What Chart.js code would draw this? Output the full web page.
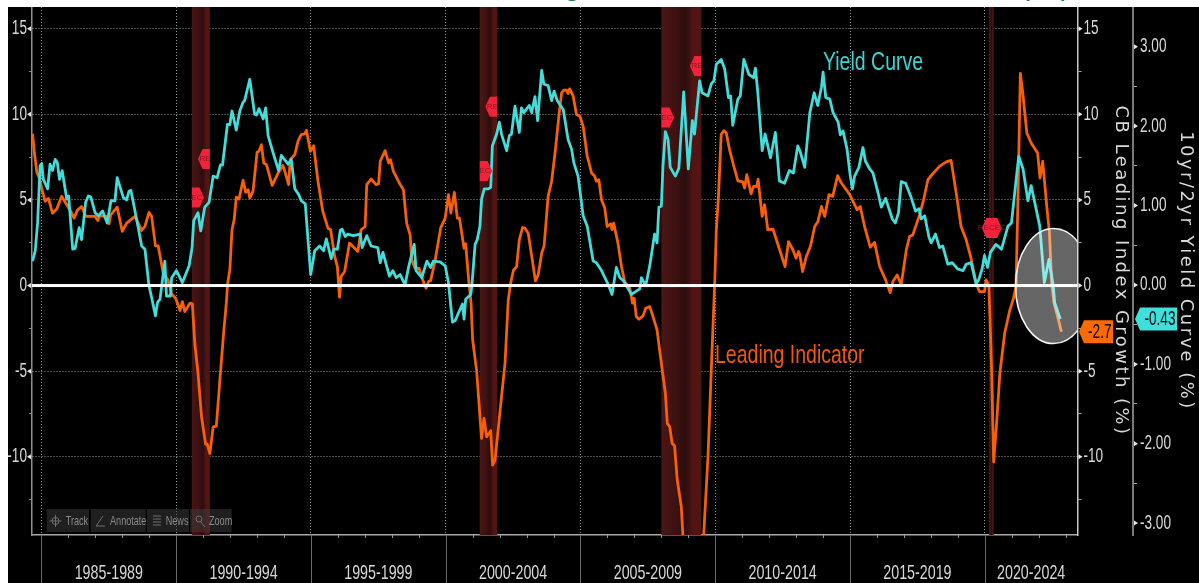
<!DOCTYPE html>
<html><head><meta charset="utf-8">
<style>
html,body{margin:0;padding:0;background:#fff;width:1199px;height:583px;overflow:hidden}
#c{position:absolute;left:8px;top:7px;background:#000;filter:blur(.45px)}
#head{position:absolute;left:0;top:0;width:1199px;height:7px;overflow:hidden}
#head span{position:absolute;top:-30px;font:30px/30px "Liberation Sans";color:#0b7a4a}
</style>
<script src="https://cdn.jsdelivr.net/npm/chart.js@4"></script>
</head><body>
<div id="head"><span style="left:564px">g</span><span style="left:1020px;letter-spacing:2px">(%)</span></div>
<canvas id="c" width="1191" height="576"></canvas>
<script>
const leadYears=[1984.67,1984.74,1984.83,1984.93,1985.02,1985.14,1985.26,1985.41,1985.57,1985.75,1985.94,1986.09,1986.21,1986.33,1986.49,1986.65,1986.99,1987.09,1987.17,1987.40,1987.51,1987.57,1987.81,1988.00,1988.16,1988.47,1988.72,1988.84,1988.99,1989.09,1989.23,1989.33,1989.52,1989.70,1989.83,1989.98,1990.14,1990.23,1990.32,1990.51,1990.60,1990.69,1990.81,1990.94,1991.09,1991.15,1991.25,1991.37,1991.49,1991.62,1991.77,1991.86,1991.91,1991.99,1992.07,1992.15,1992.23,1992.33,1992.48,1992.58,1992.67,1992.73,1992.85,1993.00,1993.07,1993.16,1993.25,1993.35,1993.56,1993.78,1993.96,1994.05,1994.17,1994.23,1994.40,1994.52,1994.64,1994.77,1994.83,1994.98,1995.10,1995.26,1995.44,1995.63,1995.73,1995.88,1995.98,1996.06,1996.12,1996.25,1996.43,1996.74,1996.86,1997.01,1997.07,1997.23,1997.42,1997.51,1997.57,1997.75,1997.88,1997.95,1998.06,1998.31,1998.43,1998.55,1998.68,1998.74,1998.86,1999.01,1999.17,1999.27,1999.36,1999.44,1999.60,1999.81,1999.98,2000.10,2000.19,2000.32,2000.43,2000.51,2000.68,2000.74,2000.84,2000.94,2001.00,2001.15,2001.27,2001.33,2001.42,2001.52,2001.67,2001.74,2001.83,2002.07,2002.20,2002.32,2002.41,2002.51,2002.63,2002.73,2002.85,2002.94,2003.06,2003.33,2003.43,2003.56,2003.65,2003.80,2003.93,2004.07,2004.21,2004.30,2004.38,2004.48,2004.54,2004.60,2004.73,2004.85,2004.98,2005.10,2005.25,2005.32,2005.41,2005.53,2005.59,2005.68,2005.78,2005.90,2005.99,2006.12,2006.17,2006.23,2006.39,2006.52,2006.64,2006.83,2006.93,2006.99,2007.07,2007.17,2007.32,2007.42,2007.57,2007.69,2007.84,2008.00,2008.15,2008.22,2008.31,2008.40,2008.49,2008.59,2008.74,2008.80,2008.95,2009.45,2009.57,2009.73,2009.85,2009.98,2010.04,2010.12,2010.22,2010.32,2010.41,2010.53,2010.69,2010.84,2011.02,2011.09,2011.17,2011.33,2011.42,2011.54,2011.59,2011.74,2011.83,2011.95,2012.14,2012.41,2012.59,2012.72,2012.88,2013.00,2013.09,2013.14,2013.24,2013.38,2013.53,2013.69,2013.81,2013.94,2014.06,2014.22,2014.36,2014.54,2014.68,2014.86,2014.99,2015.26,2015.38,2015.54,2015.75,2015.91,2016.10,2016.32,2016.49,2016.59,2016.75,2016.90,2017.09,2017.21,2017.33,2017.58,2017.73,2017.89,2018.07,2018.32,2018.57,2018.75,2018.94,2019.12,2019.31,2019.49,2019.68,2019.80,2019.99,2020.05,2020.15,2020.19,2020.25,2020.33,2020.43,2020.56,2020.74,2020.93,2021.05,2021.16,2021.23,2021.32,2021.41,2021.56,2021.72,2021.96,2022.05,2022.15,2022.30,2022.40,2022.48,2022.57,2022.75,2022.84];
const leadValues=[8.87,7.74,6.61,6.28,5.60,4.92,5.09,4.23,4.47,5.21,4.72,4.33,3.94,4.39,4.62,4.04,4.04,3.80,4.08,4.04,3.61,4.13,4.58,3.16,3.65,4.04,3.22,3.45,4.27,4.04,2.32,2.32,0.72,0.33,-0.49,-0.74,-1.46,-0.94,-1.52,-1.03,-1.07,-3.37,-5.13,-7.66,-9.26,-9.26,-9.81,-8.25,-8.21,-5.52,-2.59,-1.03,0.14,0.92,3.26,3.84,5.17,5.05,6.14,5.44,5.60,5.11,5.50,7.78,7.84,8.23,7.16,7.06,5.85,6.57,7.02,6.57,5.89,7.35,7.65,8.43,8.82,8.86,9.07,7.84,8.17,6.09,4.33,3.35,3.26,1.70,1.11,-0.68,0.53,0.82,2.48,1.99,3.26,3.45,5.89,6.22,5.89,5.95,7.26,7.88,7.16,7.35,6.67,5.90,5.60,3.65,2.96,1.50,1.01,1.01,0.23,-0.16,0.23,0.29,1.40,3.35,3.94,5.31,4.23,5.44,3.94,3.94,2.18,2.44,0.53,-1.03,-3.18,-5.03,-7.66,-8.93,-7.76,-8.83,-8.48,-10.49,-10.20,-6.49,-4.54,-0.84,0.14,0.88,1.11,2.67,3.39,3.35,3.06,0.27,0.62,1.89,2.32,5.21,6.09,7.94,10.08,11.25,11.41,11.41,11.22,11.49,11.06,9.99,9.89,9.30,7.55,7.16,6.57,6.38,6.09,6.18,5.01,4.53,3.45,3.61,3.26,3.65,2.48,1.11,0.23,-0.16,-1.03,-0.74,-1.81,-1.97,-1.77,-1.33,-1.23,-1.81,-2.59,-4.54,-6.30,-8.05,-8.25,-9.22,-9.36,-11.36,-12.92,-14.60,-16.50,-16.50,-14.60,-10.00,-5.03,0.14,3.26,5.21,8.82,9.05,8.91,7.94,6.96,6.12,6.05,5.70,6.48,5.36,5.79,5.79,6.22,4.04,4.72,3.26,3.30,1.99,1.11,2.57,2.09,1.60,1.99,1.79,0.82,1.70,2.28,3.45,3.74,4.62,4.04,5.31,5.21,6.42,5.99,5.60,5.31,4.43,4.62,3.45,2.24,2.52,1.11,0.33,-0.41,0.23,0.62,0.04,2.09,2.87,2.96,4.13,5.01,6.18,6.53,6.96,7.22,7.31,5.40,3.45,2.67,1.60,0.14,-0.35,-0.35,0.33,0.04,-1.81,-4.74,-10.30,-8.25,-5.11,-2.77,-1.42,-0.84,-0.05,5.01,12.39,11.25,8.91,8.33,7.74,6.28,7.26,4.62,3.06,0.14,-1.03,-2.10,-2.70];
const curveYears=[1984.67,1984.77,1984.86,1984.95,1985.01,1985.07,1985.23,1985.32,1985.41,1985.51,1985.59,1985.67,1985.77,1985.94,1986.01,1986.16,1986.25,1986.40,1986.49,1986.64,1986.74,1986.83,1986.99,1987.11,1987.27,1987.44,1987.58,1987.73,1987.81,1988.04,1988.16,1988.25,1988.32,1988.53,1988.72,1988.84,1988.99,1989.09,1989.23,1989.31,1989.40,1989.58,1989.64,1989.79,1989.83,1990.01,1990.23,1990.48,1990.59,1990.65,1990.81,1990.91,1991.06,1991.22,1991.37,1991.52,1991.64,1991.72,1991.90,1991.99,1992.07,1992.23,1992.36,1992.48,1992.54,1992.73,1992.91,1992.98,1993.07,1993.23,1993.32,1993.41,1993.59,1993.80,1993.90,1994.15,1994.27,1994.40,1994.54,1994.64,1994.79,1994.89,1994.99,1995.14,1995.32,1995.47,1995.57,1995.75,1995.85,1995.98,1996.09,1996.16,1996.27,1996.37,1996.56,1996.83,1996.90,1997.07,1997.23,1997.48,1997.57,1997.67,1997.91,1998.04,1998.16,1998.31,1998.49,1998.62,1998.83,1998.90,1999.11,1999.30,1999.44,1999.54,1999.79,1999.98,2000.10,2000.25,2000.35,2000.62,2000.68,2000.74,2000.93,2000.97,2001.09,2001.17,2001.27,2001.33,2001.43,2001.58,2001.67,2001.73,2001.89,2001.99,2002.07,2002.26,2002.36,2002.44,2002.57,2002.73,2002.81,2002.90,2003.10,2003.19,2003.31,2003.41,2003.56,2003.64,2003.80,2003.93,2004.02,2004.14,2004.36,2004.54,2004.67,2004.75,2004.91,2005.10,2005.25,2005.47,2005.59,2005.78,2006.02,2006.17,2006.33,2006.46,2006.60,2006.89,2007.20,2007.26,2007.42,2007.57,2007.75,2007.84,2007.91,2008.00,2008.06,2008.15,2008.25,2008.33,2008.52,2008.65,2008.83,2009.00,2009.15,2009.23,2009.42,2009.51,2009.73,2009.85,2009.95,2010.04,2010.22,2010.35,2010.49,2010.57,2010.65,2010.84,2010.93,2011.06,2011.25,2011.42,2011.49,2011.58,2011.74,2011.85,2012.05,2012.23,2012.38,2012.57,2012.75,2012.90,2013.06,2013.14,2013.32,2013.51,2013.67,2013.80,2013.94,2014.00,2014.10,2014.25,2014.37,2014.56,2014.64,2014.74,2014.89,2015.01,2015.09,2015.17,2015.33,2015.48,2015.57,2015.73,2015.85,2016.04,2016.16,2016.32,2016.57,2016.68,2016.80,2016.90,2017.06,2017.27,2017.43,2017.56,2017.64,2017.77,2017.93,2018.01,2018.17,2018.32,2018.44,2018.63,2018.79,2019.00,2019.19,2019.31,2019.49,2019.68,2019.78,2019.90,2019.99,2020.10,2020.21,2020.41,2020.62,2020.86,2020.99,2021.11,2021.26,2021.42,2021.60,2021.72,2022.04,2022.21,2022.38,2022.54,2022.59,2022.80];
const curveValues=[0.30,0.43,0.79,1.50,1.53,1.33,1.21,1.52,1.44,1.58,1.54,1.33,1.44,1.08,1.12,0.45,0.46,0.72,0.57,1.04,1.12,1.11,0.91,0.87,0.93,0.78,1.06,1.06,1.35,1.10,1.07,1.18,1.19,0.83,0.49,0.45,-0.01,-0.16,-0.39,-0.22,-0.18,0.30,-0.14,-0.14,0.09,0.18,0.03,0.24,0.47,0.81,0.91,0.68,0.98,1.04,1.37,1.35,1.51,1.51,2.02,2.02,2.19,1.95,2.19,2.30,2.32,2.59,2.15,2.14,2.22,2.09,2.23,1.88,1.67,1.44,1.63,1.52,1.58,1.21,1.14,1.06,1.02,0.57,0.13,0.43,0.49,0.43,0.58,0.33,0.45,0.45,0.69,0.70,0.61,0.64,0.62,0.64,0.47,0.62,0.49,0.47,0.28,0.41,0.11,0.18,0.09,0.13,0.00,0.22,0.51,0.18,0.09,0.30,0.22,0.30,0.29,0.24,0.03,-0.47,-0.45,-0.24,-0.43,-0.18,-0.12,-0.01,0.51,0.57,0.74,1.08,1.21,1.21,1.23,1.75,1.90,2.05,1.90,1.69,1.88,1.90,2.25,1.92,2.23,2.17,2.26,2.17,2.37,2.07,2.70,2.53,2.51,2.32,2.44,2.32,2.21,1.83,1.71,1.54,1.37,0.87,0.74,0.30,0.28,0.18,0.01,-0.12,0.22,0.09,0.05,-0.12,-0.05,0.09,-0.01,0.24,0.64,0.53,0.98,0.99,1.50,1.93,1.83,1.48,1.37,1.47,2.43,1.46,2.07,1.90,2.57,2.42,2.38,2.53,2.57,2.78,2.84,2.72,2.36,2.38,2.01,2.34,2.38,2.84,2.65,2.61,2.73,2.42,1.69,1.90,1.60,1.92,1.31,1.28,1.44,1.41,1.75,1.69,1.48,2.17,2.42,2.26,2.49,2.68,2.36,2.34,2.17,2.05,1.89,1.94,1.71,1.37,1.21,1.37,1.48,1.73,1.56,1.46,1.41,1.16,0.98,1.09,0.83,0.78,0.91,1.30,1.28,1.10,0.93,0.96,0.83,0.87,0.60,0.53,0.64,0.47,0.49,0.26,0.28,0.20,0.18,0.26,0.28,0.01,0.07,0.20,0.37,0.22,0.41,0.51,0.45,0.74,0.78,1.16,1.62,1.46,1.06,1.25,0.74,0.03,0.32,-0.01,-0.22,-0.43];
const periodLabels=["1985-1989","1990-1994","1995-1999","2000-2004","2005-2009","2010-2014","2015-2019","2020-2024"];
const periodCentres=[1987.5,1992.5,1997.5,2002.5,2007.5,2012.5,2017.5,2021.72];
const yearMarks=[1985,1986,1987,1988,1989,1990,1991,1992,1993,1994,1995,1996,1997,1998,1999,2000,2001,2002,2003,2004,2005,2006,2007,2008,2009,2010,2011,2012,2013,2014,2015,2016,2017,2018,2019,2020,2021,2022,2023];
const growthTicks=[-12.5,-10,-7.5,-5,-2.5,0,2.5,5,7.5,10,12.5,15];
const curveTicks=[-3,-2.5,-2,-1.5,-1,-0.5,0,0.5,1,1.5,2,2.5,3];
const bandStarts=[1990.58,2001.26,2008.0,2020.16];
const bandEnds=[1991.25,2001.91,2009.48,2020.33];
const recYears=[1990.66,1991.18,2001.35,2001.84,2008.10,2009.43,2020.26];
const recValues=[5.14,7.39,6.69,10.45,9.81,12.82,3.36];
const recBand=[0,0,1,1,2,2,-1];
const toolbarLabels=["Track","Annotate","News","Zoom"];
const SANS='"Liberation Sans"';
const TXT='#d8d8d8';
const pts=(xs,ys)=>xs.map((x,i)=>({x,y:ys[i]}));
const isMajor=(v,s)=>Math.abs(v/s-Math.round(v/s))<1e-6;
const noPad=s=>{s.paddingTop=s.paddingBottom=s.paddingLeft=s.paddingRight=0;};

/* no condensed face is installed, so all text is squeezed horizontally around its anchor */
const canvas=document.getElementById('c');
const rawCtx=canvas.getContext('2d');
const rawFill=rawCtx.fillText;
const squeeze={'20':.68,'21':.68,'25':.78,'13':.7};
rawCtx.fillText=function(t,x,y){
 const f=this.font;
 if(f.indexOf('DejaVu')>=0){
  this.save();this.letterSpacing='2.45px';rawFill.call(this,t,x,y);this.restore();return;
 }
 const m=f.match(/([\d.]+)px/);
 const k=(m&&squeeze[m[1]])||1;
 this.save();this.translate(x,y);this.scale(k,1);rawFill.call(this,t,0,0);this.restore();
};

const deco={
 id:'deco',
 beforeDatasetsDraw(ch){
  const {ctx,chartArea:a,scales:{x}}=ch;
  bandStarts.forEach((s,i)=>{
   const l=x.getPixelForValue(s),r=x.getPixelForValue(bandEnds[i]);
   const g=ctx.createLinearGradient(l,0,r,0);
   g.addColorStop(0,'#4b1515');g.addColorStop(.35,'#3e1212');g.addColorStop(.6,'#2c0d0d');g.addColorStop(.8,'#531414');g.addColorStop(1,'#551313');
   ctx.fillStyle=g;ctx.fillRect(l,a.top,r-l,a.bottom-a.top);
  });
 },
 afterDatasetsDraw(ch){
  const {ctx,chartArea:a,scales:{x,y}}=ch;
  ctx.save();
  ctx.beginPath();ctx.rect(a.left,a.top,a.right-a.left,a.bottom-a.top);ctx.clip();
  ctx.beginPath();ctx.ellipse(x.getPixelForValue(2022.55),y.getPixelForValue(0)+.5,38,57.5,0,0,Math.PI*2);
  ctx.fillStyle='rgba(255,255,255,.4)';ctx.fill();
  ctx.strokeStyle='#f4f4f4';ctx.lineWidth=1.6;ctx.stroke();
  ctx.restore();
  const y0=y.getPixelForValue(0);
  ctx.fillStyle='#fff';ctx.fillRect(a.left,y0-1.5,a.right-a.left,3);
  recYears.forEach((yr,i)=>{
   const cx=x.getPixelForValue(yr),cy=y.getPixelForValue(recValues[i]);
   ctx.save();
   if(recBand[i]>=0){
    const l=x.getPixelForValue(bandStarts[recBand[i]]),r=x.getPixelForValue(bandEnds[recBand[i]]);
    ctx.beginPath();ctx.rect(l,a.top,r-l,a.bottom-a.top);ctx.clip();
   }
   ctx.beginPath();
   ctx.moveTo(cx-10,cy);ctx.lineTo(cx-5.5,cy-10);ctx.lineTo(cx+5.5,cy-10);ctx.lineTo(cx+10,cy);ctx.lineTo(cx+5.5,cy+10);ctx.lineTo(cx-5.5,cy+10);ctx.closePath();
   ctx.fillStyle='#f0233a';ctx.fill();
   ctx.fillStyle='#8c1426';ctx.font='8px '+SANS;ctx.textAlign='center';ctx.textBaseline='middle';
   ctx.fillText(recBand[i]<0?'RECEC':'REC',cx,cy);
   ctx.restore();
  });
  ctx.textAlign='left';ctx.textBaseline='alphabetic';
  ctx.font='25px '+SANS;
  ctx.fillStyle='#3fd3d3';ctx.fillText('Yield Curve',815,63);
  ctx.fillStyle='#f2580c';ctx.fillText('Leading Indicator',707,356);
  const tbox=[[38.7,42.3],[82.7,55],[139,42],[182,41.7]];
  const txs=[57.7,102,157.7,201];
  toolbarLabels.forEach((t,i)=>{
   ctx.fillStyle='rgba(62,62,62,.5)';ctx.fillRect(tbox[i][0],502,tbox[i][1],23);
   ctx.fillStyle='#8c8c8c';ctx.font='13px '+SANS;ctx.textBaseline='middle';
   ctx.fillText(t,txs[i],514);
  });
  ctx.strokeStyle='#6e6e6e';ctx.lineWidth=1;
  ctx.beginPath();ctx.arc(47.5,514,3.5,0,Math.PI*2);ctx.moveTo(47.5,508);ctx.lineTo(47.5,520);ctx.moveTo(41.5,514);ctx.lineTo(53.5,514);
  ctx.moveTo(88,519);ctx.lineTo(95,509);ctx.moveTo(88,519);ctx.lineTo(97,519);
  for(let k=0;k<4;k++){ctx.moveTo(145,509+k*3);ctx.lineTo(153,509+k*3);}
  ctx.moveTo(191,509);ctx.arc(191,512,3,-Math.PI/2,Math.PI*1.5);ctx.moveTo(193,515);ctx.lineTo(197,520);
  ctx.stroke();
 },
 afterDraw(ch){
  const {ctx,chartArea:a,scales:{x,y,yRight,y2}}=ch;
  yearMarks.forEach(v=>{
   const p=Math.round(x.getPixelForValue(v))+.5;
   ctx.strokeStyle=isMajor(v,5)?'#6a6a6a':'#999';ctx.lineWidth=1;
   ctx.beginPath();ctx.moveTo(p,a.bottom);ctx.lineTo(p,isMajor(v,5)?ch.height:a.bottom+3);ctx.stroke();
  });
  ctx.fillStyle='#e6e6e6';
  [[y,a.left-5,-1],[yRight,a.right+1,1],[y2,y2.left+1,1]].forEach(([s,bx,d])=>{
   s.ticks.forEach(t=>{
    const st=s===y2?1:5;
    if(!isMajor(t.value,st))return;
    const p=s.getPixelForValue(t.value);
    ctx.beginPath();
    if(d>0){ctx.moveTo(bx+4,p);ctx.lineTo(bx,p-2.5);ctx.lineTo(bx,p+2.5);}
    else{ctx.moveTo(bx,p);ctx.lineTo(bx+4,p-2.5);ctx.lineTo(bx+4,p+2.5);}
    ctx.fill();
   });
  });
  const badge=(bx,w,val,txt,col)=>{
   ctx.beginPath();ctx.moveTo(bx,val);ctx.lineTo(bx+5,val-11.5);ctx.lineTo(bx+w,val-11.5);ctx.lineTo(bx+w,val+11.5);ctx.lineTo(bx+5,val+11.5);ctx.closePath();
   ctx.fillStyle=col;ctx.fill();
   ctx.fillStyle='#000';ctx.font='20px '+SANS;ctx.textAlign='right';ctx.textBaseline='middle';
   ctx.fillText(txt,bx+w-1.5,val+.5);
  };
  const lastLead=leadValues[leadValues.length-1],lastCurve=curveValues[curveValues.length-1];
  badge(a.right+1.5,34,y.getPixelForValue(lastLead),lastLead.toFixed(1),'#ff6a00');
  badge(y2.left+2,42,y2.getPixelForValue(lastCurve),lastCurve.toFixed(2),'#3fe0dc');
 }
};

const tickFont={family:SANS,size:20};
new Chart(canvas,{
 type:'line',
 data:{datasets:[
  {label:'Yield Curve',data:pts(curveYears,curveValues),yAxisID:'y2',xAxisID:'x',borderColor:'#43dcd8',borderWidth:2.8,pointRadius:0,tension:0,order:1,borderJoinStyle:'round'},
  {label:'Leading Indicator',data:pts(leadYears,leadValues),yAxisID:'y',xAxisID:'x',borderColor:'#f76008',borderWidth:2.8,pointRadius:0,tension:0,order:2,borderJoinStyle:'round'}
 ]},
 options:{
  responsive:false,animation:false,devicePixelRatio:1,
  layout:{padding:0},
  plugins:{legend:{display:false},title:{display:false},tooltip:{enabled:false}},
  scales:{
   x:{type:'linear',min:1984.65,max:2023.44,
    afterFit(s){s.height=48;noPad(s);},
    afterBuildTicks(s){s.ticks=yearMarks.concat(periodCentres).sort((a,b)=>a-b).map(v=>({value:v}));},
    border:{display:true,color:'#a8a8a8',width:1.5,dash:[1,2]},
    grid:{drawTicks:false,color:c=>(c.tick&&periodCentres.indexOf(c.tick.value)<0&&isMajor(c.tick.value,5))?'#9a9a9a':'rgba(0,0,0,0)',lineWidth:1},
    ticks:{autoSkip:false,maxRotation:0,minRotation:0,padding:26,color:TXT,font:{family:SANS,size:21},
     callback:v=>{const i=periodCentres.indexOf(v);return i>=0?periodLabels[i]:'';}}
   },
   y:{type:'linear',position:'left',min:-14.57,max:16.27,
    afterFit(s){s.width=24;noPad(s);},
    afterBuildTicks(s){s.ticks=growthTicks.map(v=>({value:v}));},
    border:{color:'#8f8f8f',width:1.5,dash:[1,2]},
    grid:{color:c=>(c.tick&&isMajor(c.tick.value,5))?'#9a9a9a':'rgba(0,0,0,0)',lineWidth:1,tickLength:3,tickColor:'#888'},
    ticks:{color:TXT,font:tickFont,padding:2,callback:v=>isMajor(v,5)?String(v):''}
   },
   yRight:{type:'linear',position:'right',min:-14.57,max:16.27,weight:1,
    afterFit(s){s.width=55.5;noPad(s);},
    afterBuildTicks(s){s.ticks=growthTicks.map(v=>({value:v}));},
    border:{color:'#c8c8c8',width:1.5},
    grid:{drawOnChartArea:false,tickLength:4,tickColor:'#aaa'},
    ticks:{color:TXT,font:tickFont,padding:2,callback:v=>isMajor(v,5)?String(v):''},
    title:{display:true,text:'CB Leading Index Growth (%)',color:TXT,font:{family:'"DejaVu Sans"',size:18,lineHeight:1.1},padding:{top:2,bottom:0}}
   },
   y2:{type:'linear',position:'right',min:-3.15,max:3.50,weight:2,
    afterFit(s){s.width=66;noPad(s);},
    afterBuildTicks(s){s.ticks=curveTicks.map(v=>({value:v}));},
    border:{color:'#7a7a7a',width:2},
    grid:{drawOnChartArea:false,tickLength:4,tickColor:'#aaa'},
    ticks:{color:TXT,font:tickFont,padding:3,callback:v=>isMajor(v,1)?v.toFixed(2):''},
    title:{display:true,text:'10yr/2yr Yield Curve (%)',color:TXT,font:{family:'"DejaVu Sans"',size:18,lineHeight:1.1},padding:{top:3,bottom:0}}
   }
  }
 },
 plugins:[deco]
});
</script>
</body></html>
